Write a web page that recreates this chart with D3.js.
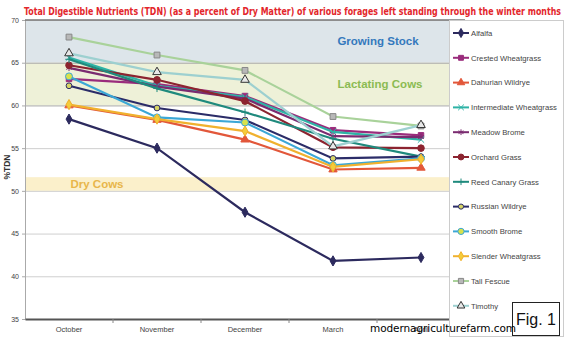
<!DOCTYPE html>
<meta charset="utf-8">
<style>
body { margin: 0; background: #fff; }
text { font-family: "Liberation Sans", Arial, sans-serif; }
</style>
<svg width="565" height="338"></svg>
<script src="https://cdnjs.cloudflare.com/ajax/libs/d3/7.8.5/d3.min.js"></script>
<script>

var months = ["October", "November", "December", "March", "April"];
var yTicks = [35, 40, 45, 50, 55, 60, 65, 70];

var alfalfa = [58.4, 55.0, 47.5, 41.8, 42.2];
var crestedWheatgrass = [63.1, 62.5, 61.1, 57.1, 56.5];
var dahurianWildrye = [60.0, 58.3, 56.0, 52.5, 52.7];
var intermediateWheatgrass = [65.6, 62.3, 61.0, 56.9, 56.0];
var meadowBrome = [64.4, 62.2, 60.8, 56.4, 56.3];
var orchardGrass = [64.7, 63.0, 60.5, 55.1, 55.0];
var reedCanaryGrass = [65.4, 62.0, 59.2, 56.1, 54.0];
var russianWildrye = [62.3, 59.7, 58.3, 53.8, 54.0];
var smoothBrome = [63.4, 58.6, 58.0, 53.0, 53.8];
var slenderWheatgrass = [60.1, 58.4, 57.0, 52.8, 53.7];
var tallFescue = [68.0, 65.9, 64.1, 58.7, 57.6];
var timothy = [66.1, 63.9, 63.0, 55.2, 57.7];

var bandNames = ["Growing Stock", "Lactating Cows", "Dry Cows"];
var bandLow = [65, 60, 50];
var bandHigh = [70, 65, 51.6];

var symX = d3.symbolX || d3.symbolCross,
    symAst = d3.symbolAsterisk || d3.symbolCross,
    symPlus = d3.symbolPlus || d3.symbolCross;

var series = [
  {name: "Alfalfa", values: alfalfa, color: "#2c2a5e", sym: d3.symbolDiamond, fill: "#2c2a5e", stroke: "#2c2a5e", size: 30},
  {name: "Crested Wheatgrass", values: crestedWheatgrass, color: "#9a2c7c", sym: d3.symbolSquare, fill: "#9a2c7c", stroke: "#9a2c7c", size: 30},
  {name: "Dahurian Wildrye", values: dahurianWildrye, color: "#e2573a", sym: d3.symbolTriangle, fill: "#e2573a", stroke: "#e2573a", size: 30},
  {name: "Intermediate Wheatgrass", values: intermediateWheatgrass, color: "#2eb3a6", sym: symX, fill: "none", stroke: "#2eb3a6", size: 28},
  {name: "Meadow Brome", values: meadowBrome, color: "#7a2b70", sym: symAst, fill: "none", stroke: "#7a2b70", size: 28},
  {name: "Orchard Grass", values: orchardGrass, color: "#8c2430", sym: d3.symbolCircle, fill: "#8c2430", stroke: "#8c2430", size: 34},
  {name: "Reed Canary Grass", values: reedCanaryGrass, color: "#1f8a7d", sym: symPlus, fill: "none", stroke: "#1f8a7d", size: 20},
  {name: "Russian Wildrye", values: russianWildrye, color: "#2b2c68", sym: d3.symbolCircle, fill: "#d6d466", stroke: "#2b2c68", size: 26},
  {name: "Smooth Brome", values: smoothBrome, color: "#3ba7d6", sym: d3.symbolCircle, fill: "#d8e24c", stroke: "#3ba7d6", size: 38},
  {name: "Slender Wheatgrass", values: slenderWheatgrass, color: "#f0b12e", sym: d3.symbolDiamond, fill: "#f4cc3a", stroke: "#f0b12e", size: 30},
  {name: "Tall Fescue", values: tallFescue, color: "#a9d29a", sym: d3.symbolSquare, fill: "#b8b8b8", stroke: "#888", size: 34},
  {name: "Timothy", values: timothy, color: "#9dd0d0", sym: d3.symbolTriangle, fill: "#e8e8e8", stroke: "#333", size: 32}
];

var svg = d3.select("svg");
var margin = {top: 20, left: 25},
    plotW = 440, plotH = 299;

var x = d3.scaleBand().domain(months).range([margin.left, margin.left + plotW]);
var y = d3.scaleLinear().domain([35, 70]).range([margin.top + plotH, margin.top]);

// title, squeezed to the reference width
var title = svg.append("text")
    .style("font-family", "'DejaVu Sans Condensed', 'DejaVu Sans', sans-serif")
    .style("font-size", "11px")
    .style("font-weight", "bold")
    .attr("fill", "#e3262b")
    .text("Total Digestible Nutrients (TDN) (as a percent of Dry Matter) of various forages left standing through the winter months");
var tw = title.node().getComputedTextLength();
title.attr("transform", "translate(24,15) scale(" + (538 / tw) + ",1)");

// bands
var bandFill = ["#dde5ea", "#eef1d8", "#fbf0cb"];
svg.selectAll(".band")
    .data(bandNames)
  .enter().append("rect")
    .attr("x", margin.left)
    .attr("width", plotW)
    .attr("y", function(d, i) { return y(bandHigh[i]); })
    .attr("height", function(d, i) { return y(bandLow[i]) - y(bandHigh[i]); })
    .attr("fill", function(d, i) { return bandFill[i]; });

// grid
svg.append("g")
    .attr("transform", "translate(" + margin.left + ",0)")
    .call(d3.axisLeft(y).tickValues(yTicks).tickSize(-plotW).tickFormat(""))
    .call(function(g) { g.select(".domain").remove(); })
    .selectAll("line")
    .attr("stroke", function(d) { return (d == 60 || d == 65) ? "#a8a8a8" : "#cfcfcf"; })
    .attr("stroke-width", 1);

// y axis labels
svg.append("g")
    .attr("transform", "translate(" + margin.left + ",0)")
    .call(d3.axisLeft(y).tickValues(yTicks).tickSize(3).tickPadding(3))
    .call(function(g) {
      g.select(".domain").attr("stroke", "#aaa");
      g.selectAll("line").attr("stroke", "#aaa");
      g.selectAll("text").attr("fill", "#444").style("font-size", "7px");
    });

svg.append("line")
    .attr("x1", margin.left).attr("x2", margin.left + plotW)
    .attr("y1", margin.top).attr("y2", margin.top)
    .attr("stroke", "#777").attr("stroke-width", 1.5);

// x axis
svg.append("g")
    .attr("transform", "translate(0," + (margin.top + plotH) + ")")
    .call(d3.axisBottom(x).tickSize(0).tickPadding(8))
    .call(function(g) {
      g.select(".domain").attr("stroke", "#555").attr("stroke-width", 2);
      g.selectAll("text").attr("fill", "#444").style("font-size", "7.5px");
    });
svg.append("g").selectAll("line")
    .data(months.slice(1))
  .enter().append("line")
    .attr("x1", function(d) { return x(d); })
    .attr("x2", function(d) { return x(d); })
    .attr("y1", margin.top + plotH)
    .attr("y2", margin.top + plotH + 4)
    .attr("stroke", "#888");

// band labels
var bandColor = ["#3479bd", "#8bbb52", "#e8b64a"];
var bandX = [378, 380, 97];
svg.selectAll(".bandLabel")
    .data(bandNames)
  .enter().append("text")
    .attr("x", function(d, i) { return bandX[i]; })
    .attr("y", function(d, i) { return i == 2 ? y(50.8) + 4 : y((bandLow[i] + bandHigh[i]) / 2) + 4; })
    .attr("text-anchor", "middle")
    .style("font-size", "11.5px")
    .style("font-weight", "bold")
    .attr("fill", function(d, i) { return bandColor[i]; })
    .text(function(d) { return d; });

svg.append("text")
    .attr("transform", "translate(10,167) rotate(-90)")
    .attr("text-anchor", "middle")
    .style("font-size", "8.5px")
    .style("font-weight", "bold")
    .attr("fill", "#333")
    .text("%TDN");

// lines + markers
var line = d3.line()
    .x(function(d, i) { return x(months[i]) + x.bandwidth() / 2; })
    .y(function(d) { return y(d); });

var sym = d3.symbol();

var s = svg.selectAll(".series")
    .data(series)
  .enter().append("g");
s.append("path")
    .attr("d", function(d) { return line(d.values); })
    .attr("fill", "none")
    .attr("stroke", function(d) { return d.color; })
    .attr("stroke-width", 2.2);
s.selectAll("path.pt")
    .data(function(d) { return d.values.map(function(v, i) { return {v: v, i: i, s: d}; }); })
  .enter().append("path")
    .attr("class", "pt")
    .attr("transform", function(d) { return "translate(" + (x(months[d.i]) + x.bandwidth() / 2) + "," + y(d.v) + ")"; })
    .attr("d", function(d) { return sym.type(d.s.sym).size(d.s.size)(); })
    .attr("fill", function(d) { return d.s.fill; })
    .attr("stroke", function(d) { return d.s.stroke; })
    .attr("stroke-width", 1);

// legend
var lg = svg.append("g");
lg.append("rect")
    .attr("x", 449.5).attr("y", 20.5)
    .attr("width", 114).attr("height", 316)
    .attr("fill", "#fff")
    .attr("stroke", "#ccc");
var item = lg.selectAll(".item")
    .data(series)
  .enter().append("g")
    .attr("transform", function(d, i) { return "translate(453," + (33 + i * 24.8) + ")"; });
item.append("line")
    .attr("x1", 0).attr("x2", 16)
    .attr("stroke", function(d) { return d.color; })
    .attr("stroke-width", 2);
item.append("path")
    .attr("transform", "translate(8,0)")
    .attr("d", function(d) { return sym.type(d.sym).size(d.size * 0.8)(); })
    .attr("fill", function(d) { return d.fill; })
    .attr("stroke", function(d) { return d.stroke; })
    .attr("stroke-width", 1);
item.append("text")
    .attr("x", 18)
    .attr("dy", "0.35em")
    .style("font-size", "7.7px")
    .attr("fill", "#444")
    .text(function(d) { return d.name; });

svg.append("rect")
    .attr("x", 512.5).attr("y", 302.5)
    .attr("width", 47).attr("height", 33)
    .attr("fill", "#fff")
    .attr("stroke", "#222");
svg.append("text")
    .attr("x", 536).attr("y", 325)
    .attr("text-anchor", "middle")
    .style("font-size", "16px")
    .attr("fill", "#111")
    .text("Fig. 1");

svg.append("text")
    .attr("x", 370).attr("y", 332)
    .attr("textLength", 146)
    .style("font-family", "'DejaVu Sans', sans-serif")
    .style("font-size", "10.5px")
    .attr("fill", "#000")
    .text("modernagriculturefarm.com");

</script>
